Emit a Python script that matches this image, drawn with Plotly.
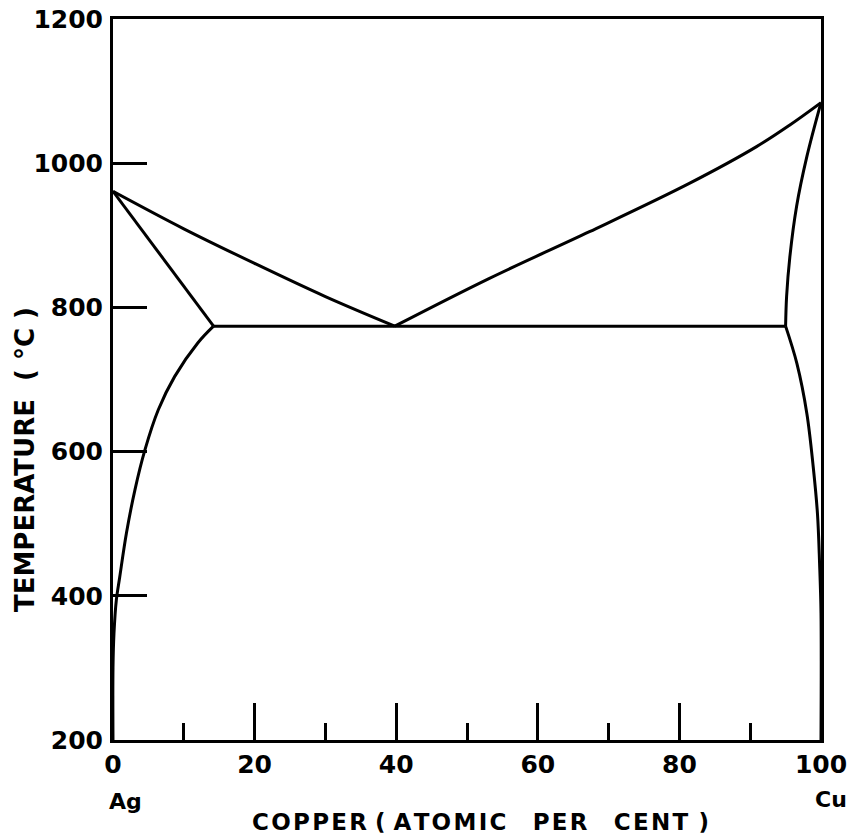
import plotly.graph_objects as go

# ---- data ----
liq_left_x = [0, 10, 20, 30, 39.8]
liq_left_T = [961, 909, 861, 815, 774]

liq_right_x = [39.8, 53.1, 67.3, 81.4, 90.9, 95.6, 100]
liq_right_T = [774, 840, 905, 972, 1023, 1053, 1084]

sol_left_x = [0, 14.2]
sol_left_T = [961, 774]

solv_left_x = [14.2, 12.0, 8.7, 6.4, 4.5, 3.1, 1.9, 0.95, 0.47, 0.14, 0.0, 0.0]
solv_left_T = [774, 751, 704, 658, 602, 547, 487, 426, 394, 348, 300, 200]

sol_right_x = [100, 98.0, 96.55, 95.6, 95.14, 95.0]
sol_right_T = [1084, 1009, 940, 870, 815, 774]

solv_right_x = [95.0, 96.6, 98.0, 98.9, 99.5, 99.8, 100, 100]
solv_right_T = [774, 722, 653, 579, 514, 445, 376, 200]

eut_x = [14.2, 95.0]
eut_T = [774, 774]

x_ticks = [0, 20, 40, 60, 80, 100]
x_tick_text = ["0", "20", "40", "60", "80", "100"]
y_ticks = [200, 400, 600, 800, 1000, 1200]
y_tick_text = ["200", "400", "600", "800", "1000", "1200"]

FONT = "DejaVu Sans"
LW = 3

fig = go.Figure()
curves = [
    (liq_left_x, liq_left_T, "spline"),
    (liq_right_x, liq_right_T, "spline"),
    (sol_left_x, sol_left_T, "linear"),
    (solv_left_x, solv_left_T, "spline"),
    (sol_right_x, sol_right_T, "spline"),
    (solv_right_x, solv_right_T, "spline"),
    (eut_x, eut_T, "linear"),
]
for xs, ys, shape in curves:
    fig.add_trace(go.Scatter(
        x=xs, y=ys, mode="lines",
        line=dict(color="black", width=LW, shape=shape, smoothing=1.0),
        showlegend=False, hoverinfo="skip",
    ))

fig.update_layout(
    width=855, height=840,
    margin=dict(l=113, r=34, t=19, b=100, autoexpand=False),
    paper_bgcolor="white", plot_bgcolor="white",
    font=dict(family=FONT, color="black"),
    showlegend=False,
)
fig.update_xaxes(
    range=[0, 100], showgrid=False, zeroline=False, automargin=False,
    showline=True, linecolor="black", linewidth=LW, mirror=True,
    tickmode="array", tickvals=x_ticks, ticktext=x_tick_text,
    ticks="inside", ticklen=37, tickwidth=2.5, tickcolor="black",
    tickfont=dict(family=FONT, size=25, color="black", weight="bold"),
    ticklabelstandoff=0,
    minor=dict(ticks="inside", ticklen=17, tickwidth=2.5, tickcolor="black",
               dtick=10, tick0=0, showgrid=False),
)
fig.update_yaxes(
    range=[200, 1200], showgrid=False, zeroline=False, automargin=False,
    showline=True, linecolor="black", linewidth=LW, mirror=True,
    tickmode="array", tickvals=y_ticks, ticktext=y_tick_text,
    ticks="inside", ticklen=34, tickwidth=2.5, tickcolor="black",
    tickfont=dict(family=FONT, size=25, color="black", weight="bold"),
    ticklabelstandoff=2,
)

hs = "\u200a"
xtitle = (hs.join("COPPER") + " ( " + hs.join("ATOMIC") + "   " + hs
          + hs.join("PER") + "   " + hs + hs.join("CENT") + hs + " )")
fig.add_annotation(
    text=xtitle, xref="paper", yref="paper",
    x=(480 - 113) / 708, y=(740 - 822) / 721,
    showarrow=False, xanchor="center", yanchor="middle",
    font=dict(family=FONT, size=23, color="black", weight="bold"),
)
fig.add_annotation(
    text="TEMPERATURE  ( °C )", xref="paper", yref="paper",
    x=(25 - 113) / 708, y=(740 - 460) / 721,
    showarrow=False, xanchor="center", yanchor="middle", textangle=-90,
    font=dict(family=FONT, size=26, color="black", weight="bold"),
)
fig.add_annotation(
    text="Ag", xref="paper", yref="paper",
    x=(125 - 113) / 708, y=(740 - 801) / 721,
    showarrow=False, xanchor="center", yanchor="middle",
    font=dict(family=FONT, size=22, color="black", weight="bold"),
)
fig.add_annotation(
    text="Cu", xref="paper", yref="paper",
    x=(831 - 113) / 708, y=(740 - 799) / 721,
    showarrow=False, xanchor="center", yanchor="middle",
    font=dict(family=FONT, size=22, color="black", weight="bold"),
)

fig.write_html("out.html")
